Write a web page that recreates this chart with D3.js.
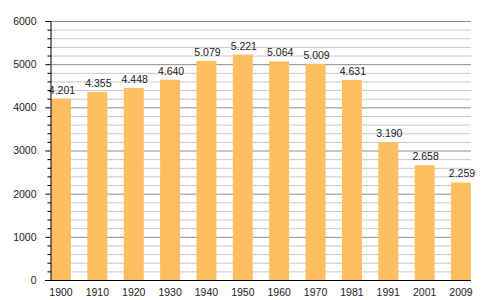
<!DOCTYPE html>
<html><head><meta charset="utf-8">
<script src="https://cdn.jsdelivr.net/npm/d3@7"></script>
<style>body{margin:0;background:#fff}svg{display:block}text{font-family:"Liberation Sans",Arial,sans-serif}</style>
</head><body><svg id="c" width="500" height="300"></svg>
<script>
const years = ["1900","1910","1920","1930","1940","1950","1960","1970","1981","1991","2001","2009"];
const population = [4201,4355,4448,4640,5079,5221,5064,5009,4631,3190,2658,2259];
const yMajorTicks = [0,1000,2000,3000,4000,5000,6000];

(function(){
const svg = d3.select("#c");
const mL = 51, mR = 471, mT = 21, mB = 280;
const x = d3.scaleBand().domain(years).range([mL, mR]).paddingInner(0.45).paddingOuter(0);
const y = d3.scaleLinear().domain([0, 6000]).range([mB, mT]);
const minor = d3.range(0, 6001, 200).filter(v => v % 1000 !== 0);

// grid
svg.append("g").selectAll("line").data(minor).join("line")
  .attr("x1", mL).attr("x2", mR).attr("y1", d => y(d)+0.5).attr("y2", d => y(d)+0.5)
  .attr("stroke", "#c8c8c8").attr("stroke-width", 1);
svg.append("g").selectAll("line").data(yMajorTicks.filter(v=>v>0)).join("line")
  .attr("x1", mL).attr("x2", mR).attr("y1", d => y(d)+0.5).attr("y2", d => y(d)+0.5)
  .attr("stroke", "#8c8c8c").attr("stroke-width", 1);

// bars
svg.append("g").selectAll("rect").data(population).join("rect")
  .attr("x", (d,i) => x(years[i])).attr("width", x.bandwidth())
  .attr("y", d => y(d)).attr("height", d => y(0) - y(d))
  .attr("fill", "#ffbf60");

// value labels
const fmt = d3.formatLocale({decimal:",", thousands:".", grouping:[3], currency:["",""]}).format(",d");
svg.append("g").selectAll("text").data(population).join("text")
  .attr("x", (d,i) => x(years[i]) + x.bandwidth()/2 + 1).attr("y", d => y(d) - 5)
  .attr("text-anchor", "middle").attr("font-size", 10.5).attr("fill", "#222")
  .text(d => fmt(d));

// y axis
const yAxis = d3.axisLeft(y).tickValues(yMajorTicks).tickSize(5).tickPadding(9).tickFormat(d3.format("d"));
const gy = svg.append("g").attr("transform", `translate(${mL-0.5},0)`).call(yAxis);
gy.select(".domain").attr("stroke", "#000");
gy.selectAll(".tick line").attr("stroke", "#000");
gy.selectAll(".tick text").attr("font-size", 10.5).attr("fill", "#222").attr("font-family", '"Liberation Sans",Arial,sans-serif');
svg.append("g").selectAll("line").data(minor).join("line")
  .attr("x1", mL-3.5).attr("x2", mL).attr("y1", d => y(d)+0.5).attr("y2", d => y(d)+0.5)
  .attr("stroke", "#000");

// x axis
const xAxis = d3.axisBottom(x).tickSize(0).tickPadding(8);
const gx = svg.append("g").attr("transform", `translate(0,${mB+0.5})`).call(xAxis);
gx.select(".domain").attr("stroke", "#000").attr("d", `M${mL-6},0H${mR}`);
gx.selectAll(".tick text").attr("font-size", 10.5).attr("fill", "#222").attr("font-family", '"Liberation Sans",Arial,sans-serif');
})();
</script></body></html>
